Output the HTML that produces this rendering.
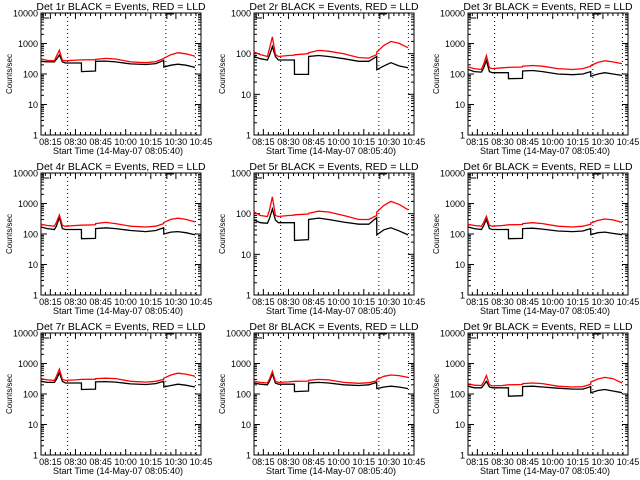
<!DOCTYPE html>
<html><head><meta charset="utf-8"><style>
html,body{margin:0;padding:0;background:#fff;}
svg{display:block;font-family:"Liberation Sans",sans-serif;}
</style></head><body>
<svg id="chart" width="640" height="480" viewBox="0 0 640 480" xmlns="http://www.w3.org/2000/svg">
<rect x="0" y="0" width="640" height="480" fill="#ffffff"/>
</svg>
<script>
// time knots: minutes after 08:00 on the plot's time axis
const times = [5.7,12,19,21,24,27,30,40,45.9,46,59.9,60,70,80,95,110,120,127.9,128,135,142,150,159];
const panelNames = ["Det 1r","Det 2r","Det 3r","Det 4r","Det 5r","Det 6r","Det 7r","Det 8r","Det 9r"];
const yMaxDecades = [4,3,4,4,3,4,4,4,4];
const xTickLabels = ["08:15","08:30","08:45","10:00","10:15","10:30","10:45"];
const xTickMinutes = [15,40,65,90,115,140,165];
const dottedMinutes = [32.2,130,159.4];
const black1=[260,250,250,300,420,250,230,230,230,120,125,260,265,250,215,205,220,280,170,195,210,195,165];
const red1=[310,280,270,380,600,280,270,285,290,290,295,300,325,310,250,235,255,320,330,430,500,460,380];
const black2=[85,75,70,90,150,85,70,70,70,31,31,85,90,85,75,65,65,85,40,50,60,50,45];
const red2=[110,95,85,130,260,95,85,90,92,94,100,105,120,115,100,80,78,95,110,160,200,180,140];
const black3=[140,120,115,150,280,120,110,110,110,70,72,125,130,120,100,95,100,120,85,100,110,100,90];
const red3=[170,150,140,200,400,160,150,160,165,165,170,180,190,180,150,140,150,180,190,240,270,250,220];
const black4=[170,150,140,180,350,150,140,140,140,70,72,150,160,150,130,120,130,160,100,115,120,110,95];
const red4=[210,190,180,240,420,190,180,190,195,195,200,220,240,220,180,170,180,220,240,300,330,300,250];
const black5=[70,60,58,75,130,70,60,60,60,22,23,72,78,72,62,55,55,80,30,40,45,38,30];
const red5=[110,90,85,120,260,90,85,90,92,94,98,102,115,110,90,72,72,90,110,160,200,170,125];
const black6=[170,150,140,180,300,150,140,140,140,70,72,150,155,145,125,120,125,150,95,110,115,105,95];
const red6=[210,190,180,230,380,190,180,190,200,200,205,220,235,220,180,170,180,210,230,280,310,290,240];
const black7=[260,240,240,300,500,260,230,230,230,140,145,250,255,245,215,205,220,260,170,190,210,195,170];
const red7=[320,290,280,380,650,300,280,290,300,300,305,320,330,320,260,245,260,300,330,420,480,450,380];
const black8=[230,210,200,260,450,230,210,210,210,120,125,230,240,230,200,190,200,240,150,170,180,170,150];
const red8=[260,240,230,300,550,260,240,250,260,260,265,280,300,290,240,225,235,270,300,380,420,400,350];
const black9=[180,160,160,190,260,170,160,160,160,85,88,175,180,170,155,145,145,175,110,130,140,125,110];
const red9=[220,195,190,240,400,200,185,190,200,200,205,220,230,220,180,170,175,210,250,310,350,320,230];
const blackSeries=[black1,black2,black3,black4,black5,black6,black7,black8,black9];
const redSeries=[red1,red2,red3,red4,red5,red6,red7,red8,red9];

const svg=document.getElementById('chart');
const NS='http://www.w3.org/2000/svg';
function mk(tag,attrs,parent){const e=document.createElementNS(NS,tag);for(const k in attrs)e.setAttribute(k,attrs[k]);parent.appendChild(e);return e;}
const W=160,H=122,T0=5.67,T1=165;
const colLeft=[41,254,468], rowTop=[13,173,333];

for(let p=0;p<9;p++){
  const L=colLeft[p%3], Tp=rowTop[Math.floor(p/3)], B=Tp+H, R=L+W;
  const g=mk('g',{},svg);
  
  
  const dec=yMaxDecades[p];
  const xs=m=>L+(m-T0)/(T1-T0)*W;
  const ys=v=>B-Math.log10(Math.max(v,1))/dec*H;
  const t=mk('text',{x:(L+R)/2,y:Tp-3,'text-anchor':'middle','font-size':'10.5'},g);
  t.textContent=panelNames[p]+" BLACK = Events, RED = LLD";
  
  
  const box=mk('rect',{x:L,y:Tp,width:W,height:H,fill:'none',stroke:'#000','stroke-width':1},g);
  
  
  for(let d=0;d<=dec;d++){
    const y=ys(Math.pow(10,d));
    mk('line',{x1:L,x2:L+6,y1:y,y2:y,stroke:'#000'},g);
    mk('line',{x1:R,x2:R-6,y1:y,y2:y,stroke:'#000'},g);
    const lb=mk('text',{x:L-3,y:y+3.5,'text-anchor':'end','font-size':'9'},g);
    lb.textContent=String(Math.pow(10,d));
    
    
    if(d<dec){for(let k=2;k<10;k++){const yy=ys(k*Math.pow(10,d));
      mk('line',{x1:L,x2:L+3,y1:yy,y2:yy,stroke:'#000'},g);
      mk('line',{x1:R,x2:R-3,y1:yy,y2:yy,stroke:'#000'},g);}}
  }
  const yt=mk('text',{x:0,y:0,'text-anchor':'middle','font-size':'8',transform:`translate(${L-29},${(Tp+B)/2}) rotate(-90)`},g);
  yt.textContent="Counts/sec";
  
  
  for(let m=10;m<=165;m+=5){const x=xs(m);const major=((m-15)%25===0);
    mk('line',{x1:x,x2:x,y1:B,y2:B-(major?6:3),stroke:'#000'},g);
    mk('line',{x1:x,x2:x,y1:Tp,y2:Tp+(major?6:3),stroke:'#000'},g);}
  for(let i=0;i<xTickLabels.length;i++){
    const x=xs(xTickMinutes[i]);
    const lb=mk('text',{x:x,y:B+10,'text-anchor':'middle','font-size':'9'},g);
    lb.textContent=xTickLabels[i];
    
    
  }
  const xt=mk('text',{x:(L+R)/2-3,y:B+19,'text-anchor':'middle','font-size':'9'},g);
  xt.textContent="Start Time (14-May-07 08:05:40)";
  
  
  for(const m of dottedMinutes){const x=xs(m);
    const dl=mk('line',{x1:x,x2:x,y1:Tp,y2:B,stroke:'#000','stroke-dasharray':'1,3'},g);
    
    }
  mk('path',{d:`M${L+2},${Tp} V${Tp+5} H${L+8}`,fill:'none',stroke:'#000'},g);
  const bx=xs(dottedMinutes[1]);
  mk('path',{d:`M${bx+1},${Tp+6} V${Tp+1} H${bx+8}`,fill:'none',stroke:'#000'},g);
  const mkLine=(arr,col,name)=>{
    const pts=arr.map((v,i)=>xs(times[i]).toFixed(1)+','+ys(v).toFixed(1)).join(' ');
    const pl=mk('polyline',{points:pts,fill:'none',stroke:col,'stroke-width':1.3},g);
    
    
  };
  mkLine(blackSeries[p],'#000','events-line');
  mkLine(redSeries[p],'#ff0000','lld-line');
}
</script>
</body></html>
